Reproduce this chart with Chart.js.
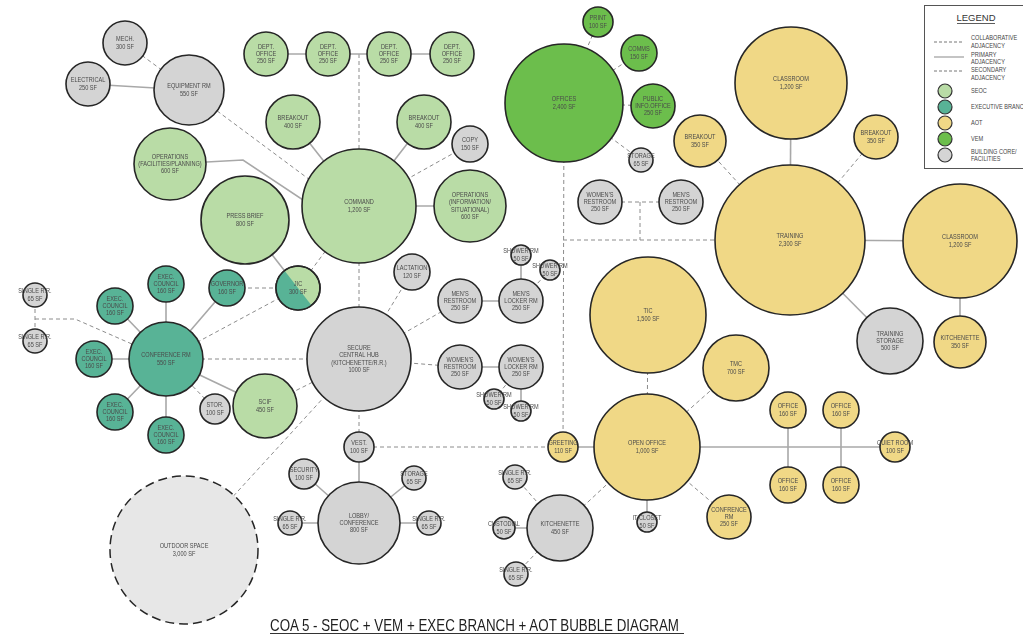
<!DOCTYPE html>
<html>
<head>
<meta charset="utf-8">
<script src="https://cdn.jsdelivr.net/npm/chart.js@4.4.1/dist/chart.umd.min.js"></script>
<style>
  html, body { margin: 0; padding: 0; background: #ffffff; }
  #wrap { position: relative; width: 1023px; height: 635px; overflow: hidden; background: #fff; }
  #c { position: absolute; left: 0; top: 0; display: block; }
  #ov { position: absolute; left: 0; top: 0; }
</style>
</head>
<body>
<div id="wrap">
  <canvas id="c" width="1023" height="635"></canvas>
  <svg id="ov" width="1023" height="635" xmlns="http://www.w3.org/2000/svg">
    <rect x="924.5" y="5.5" width="110" height="163" fill="#ffffff" stroke="#555" stroke-width="1"/>
    <text x="976" y="21" text-anchor="middle" font-family="Liberation Sans, Arial, sans-serif" font-size="9.5" fill="#333">LEGEND</text>
    <line x1="957" y1="23.5" x2="995" y2="23.5" stroke="#333" stroke-width="0.8"/>
    <line x1="934" y1="42" x2="964" y2="42" stroke="#777" stroke-width="1" stroke-dasharray="3,2"/>
    <line x1="934" y1="57" x2="964" y2="57" stroke="#b5b5b5" stroke-width="1.6"/>
    <line x1="934" y1="71" x2="964" y2="71" stroke="#777" stroke-width="1" stroke-dasharray="3,2"/>
    <circle cx="945" cy="91" r="7" fill="#b9dca6" stroke="#333" stroke-width="1.2"/>
    <circle cx="945" cy="107" r="7" fill="#58b396" stroke="#333" stroke-width="1.2"/>
    <circle cx="945" cy="123" r="7" fill="#f0d886" stroke="#333" stroke-width="1.2"/>
    <circle cx="945" cy="139" r="7" fill="#6cbe4c" stroke="#333" stroke-width="1.2"/>
    <circle cx="945" cy="155" r="7" fill="#d4d4d4" stroke="#333" stroke-width="1.2"/>
    <g font-family="Liberation Sans, Arial, sans-serif" font-size="7" fill="#444">
      <g transform="translate(971,0) scale(0.8,1)">
        <text x="0" y="40.5">COLLABORATIVE</text>
        <text x="0" y="48.5">ADJACENCY</text>
        <text x="0" y="57.5">PRIMARY</text>
        <text x="0" y="64.5">ADJACENCY</text>
        <text x="0" y="72.5">SECONDARY</text>
        <text x="0" y="80.5">ADJACENCY</text>
        <text x="0" y="93.5">SEOC</text>
        <text x="0" y="109.5">EXECUTIVE BRANCH</text>
        <text x="0" y="125.5">AOT</text>
        <text x="0" y="141.5">VEM</text>
        <text x="0" y="154.5">BUILDING CORE/</text>
        <text x="0" y="161.5">FACILITIES</text>
      </g>
    </g>
    <g transform="translate(270,631) scale(0.82,1)">
      <text x="0" y="0" font-family="Liberation Sans, Arial, sans-serif" font-size="16.3" fill="#1e1e1e">COA 5 - SEOC + VEM + EXEC BRANCH + AOT BUBBLE DIAGRAM</text>
    </g>
    <line x1="270" y1="633.5" x2="684" y2="633.5" stroke="#333" stroke-width="1"/>
  </svg>
</div>
<script>
// ---------- DATA: rooms [id, label, x, y, radius] ----------
const seocRooms = [
  ['opsFac', 'OPERATIONS\n(FACILITIES/PLANNING)\n600 SF', 170, 164, 36],
  ['dept1', 'DEPT.\nOFFICE\n250 SF', 266, 54, 22],
  ['dept2', 'DEPT.\nOFFICE\n250 SF', 328, 54, 22],
  ['dept3', 'DEPT.\nOFFICE\n250 SF', 389, 54, 22],
  ['dept4', 'DEPT.\nOFFICE\n250 SF', 452, 54, 22],
  ['brkL', 'BREAKOUT\n400 SF', 293, 122, 27],
  ['brkR', 'BREAKOUT\n400 SF', 424, 122, 27],
  ['command', 'COMMAND\n1,200 SF', 359, 206, 57],
  ['opsInfo', 'OPERATIONS\n(INFORMATION/\nSITUATIONAL)\n600 SF', 470, 206, 36],
  ['press', 'PRESS BRIEF\n800 SF', 245, 220, 44],
  ['scif', 'SCIF\n450 SF', 265, 406, 32]
];
const execRooms = [
  ['execT', 'EXEC.\nCOUNCIL\n160 SF', 166, 284, 18],
  ['governor', 'GOVERNOR\n160 SF', 227, 288, 18],
  ['execLT', 'EXEC.\nCOUNCIL\n160 SF', 115, 306, 18],
  ['execL', 'EXEC.\nCOUNCIL\n160 SF', 94, 359, 18],
  ['execLB', 'EXEC.\nCOUNCIL\n160 SF', 115, 412, 18],
  ['execB', 'EXEC.\nCOUNCIL\n160 SF', 166, 435, 18],
  ['confRm', 'CONFERENCE RM\n550 SF', 166, 359, 37]
];
const jicRooms = [
  ['jic', 'JIC\n300 SF', 298, 288, 22]
];
const vemRooms = [
  ['offices', 'OFFICES\n2,400 SF', 564, 103, 59],
  ['print', 'PRINT\n100 SF', 598, 22, 15],
  ['comms', 'COMMS\n150 SF', 639, 53, 18],
  ['pio', 'PUBLIC\nINFO.OFFICE\n250 SF', 653, 106, 22]
];
const aotRooms = [
  ['classT', 'CLASSROOM\n1,200 SF', 791, 83, 56],
  ['brkA', 'BREAKOUT\n350 SF', 700, 141, 26],
  ['brkB', 'BREAKOUT\n350 SF', 876, 137, 22],
  ['training', 'TRAINING\n2,300 SF', 790, 240, 75],
  ['classR', 'CLASSROOM\n1,200 SF', 960, 241, 57],
  ['kitA', 'KITCHENETTE\n350 SF', 960, 342, 26],
  ['tic', 'TIC\n1,500 SF', 648, 315, 58],
  ['tmc', 'TMC\n700 SF', 736, 368, 33],
  ['openOff', 'OPEN OFFICE\n1,000 SF', 647, 447, 53],
  ['greeting', 'GREETING\n110 SF', 563, 447, 15],
  ['office1', 'OFFICE\n160 SF', 788, 410, 18],
  ['office2', 'OFFICE\n160 SF', 841, 410, 18],
  ['office3', 'OFFICE\n160 SF', 788, 485, 18],
  ['office4', 'OFFICE\n160 SF', 841, 485, 18],
  ['quiet', 'QUIET ROOM\n100 SF', 895, 447, 15],
  ['confA', 'CONFRENCE\nRM\n250 SF', 729, 517, 22]
];
const coreRooms = [
  ['mech', 'MECH.\n300 SF', 125, 43, 22],
  ['elec', 'ELECTRICAL\n250 SF', 88, 84, 22],
  ['equip', 'EQUIPMENT RM\n550 SF', 189, 90, 35],
  ['copy', 'COPY\n150 SF', 470, 144, 18],
  ['storV', 'STORAGE\n65 SF', 641, 160, 12],
  ['wrrV', "WOMEN'S\nRESTROOM\n250 SF", 600, 202, 22],
  ['mrrV', "MEN'S\nRESTROOM\n250 SF", 681, 202, 22],
  ['srr1', 'SINGLE R.R.\n65 SF', 35, 295, 12],
  ['srr2', 'SINGLE R.R.\n65 SF', 35, 341, 12],
  ['stor', 'STOR.\n100 SF', 215, 409, 15],
  ['lact', 'LACTATION\n120 SF', 412, 272, 18],
  ['hub', 'SECURE\nCENTRAL HUB\n(KITCHENETTE/R.R.)\n1000 SF', 359, 359, 52],
  ['mrr', "MEN'S\nRESTROOM\n250 SF", 460, 301, 22],
  ['wrr', "WOMEN'S\nRESTROOM\n250 SF", 460, 367, 22],
  ['mlock', "MEN'S\nLOCKER RM\n250 SF", 521, 301, 22],
  ['wlock', "WOMEN'S\nLOCKER RM\n250 SF", 521, 367, 22],
  ['shw1', 'SHOWER RM\n50 SF', 521, 255, 10],
  ['shw2', 'SHOWER RM\n50 SF', 550, 270, 10],
  ['shw3', 'SHOWER RM\n50 SF', 494, 399, 10],
  ['shw4', 'SHOWER RM\n50 SF', 521, 411, 10],
  ['vest', 'VEST.\n100 SF', 359, 447, 15],
  ['security', 'SECURITY\n100 SF', 304, 474, 15],
  ['storL', 'STORAGE\n65 SF', 414, 478, 12],
  ['lobby', 'LOBBY/\nCONFERENCE\n800 SF', 359, 523, 41],
  ['srrL', 'SINGLE R.R.\n65 SF', 290, 523, 12],
  ['srrR', 'SINGLE R.R.\n65 SF', 429, 523, 12],
  ['srrK1', 'SINGLE R.R.\n65 SF', 515, 477, 12],
  ['cust', 'CUSTODIAL\n50 SF', 504, 528, 11],
  ['kitG', 'KITCHENETTE\n450 SF', 560, 528, 33],
  ['srrK2', 'SINGLE R.R.\n65 SF', 516, 574, 12],
  ['itc', 'IT CLOSET\n50 SF', 647, 522, 10],
  ['trStor', 'TRAINING\nSTORAGE\n500 SF', 890, 341, 33]
];
const outdoorRooms = [
  ['outdoor', 'OUTDOOR SPACE\n3,000 SF', 184, 550, 74]
];

// ---------- DATA: adjacencies (room ids or bend points) ----------
const primaryLinks = [
  ['elec', 'equip'], ['opsFac', [243, 160], [303, 200], 'command'],
  ['dept1', 'dept2'], ['dept2', 'dept3'], ['dept3', 'dept4'],
  ['brkL', 'command'], ['brkR', 'command'], ['opsInfo', 'command'], ['press', 'jic'],
  ['execT', 'confRm'], ['governor', 'confRm'], ['execLT', 'confRm'], ['execL', 'confRm'],
  ['execLB', 'confRm'], ['execB', 'confRm'], ['scif', 'confRm'],
  ['mrr', 'mlock'], ['wrr', 'wlock'], ['shw1', 'mlock'], ['shw4', 'wlock'],
  ['vest', 'lobby'], ['security', 'lobby'], ['storL', 'lobby'], ['srrL', 'lobby'], ['srrR', 'lobby'],
  ['greeting', 'openOff'], ['openOff', 'quiet'], ['office1', 'office3'], ['office2', 'office4'],
  ['openOff', 'itc'], ['classT', 'training'], ['training', 'classR'], ['training', 'trStor'],
  ['classR', 'kitA'], ['cust', 'kitG']
];
const secondaryLinks = [
  ['mech', 'equip'], ['equip', [310, 180]], ['copy', 'command'], [[359, 54], 'command'],
  ['jic', 'command'], ['governor', 'jic'], ['confRm', 'jic'], ['stor', 'confRm'],
  ['srr1', 'srr2'], [[35, 319], [75, 319], 'confRm'], ['confRm', 'hub'], ['scif', 'hub'],
  ['command', 'hub'], ['lact', 'hub'], ['mrr', 'hub'], ['wrr', 'hub'], ['hub', 'outdoor'],
  ['hub', 'vest'], ['shw2', 'mlock'], ['shw3', 'wlock'], ['vest', 'greeting'],
  ['offices', 'greeting'], [[563, 240], 'training'], ['wrrV', 'mrrV'], [[640, 202], [640, 240]],
  ['print', 'offices'], ['comms', 'offices'], ['pio', 'offices'], ['storV', 'offices'],
  ['brkA', 'training'], ['brkB', 'training'], ['tic', 'openOff'], ['tmc', 'openOff'],
  ['openOff', 'confA'], ['openOff', 'kitG'], ['srrK1', 'kitG'], ['srrK2', 'kitG']
];

// ---------- STYLE ----------
const COLORS = {
  seoc: '#b9dca6', exec: '#58b396', aot: '#f0d886', vem: '#6cbe4c', core: '#d4d4d4', outdoor: '#e7e7e7'
};
const OUTLINE = '#262626';

const allGroups = [seocRooms, execRooms, jicRooms, vemRooms, aotRooms, coreRooms, outdoorRooms];
const nodeIndex = {};
allGroups.forEach(g => g.forEach(r => { nodeIndex[r[0]] = { x: r[2], y: r[3] }; }));
const pt = ref => (typeof ref === 'string') ? { x: nodeIndex[ref].x, y: nodeIndex[ref].y } : { x: ref[0], y: ref[1] };

function bubbleSet(label, rooms, bg, extra) {
  return Object.assign({
    type: 'bubble',
    label: label,
    data: rooms.map(r => ({ x: r[2], y: r[3], r: r[4] })),
    roomLabels: rooms.map(r => r[1]),
    backgroundColor: bg,
    borderColor: OUTLINE,
    borderWidth: 1.6,
    hoverBorderWidth: 1.6,
    clip: false,
    order: 0
  }, extra || {});
}

const datasets = [
  bubbleSet('SEOC', seocRooms, COLORS.seoc),
  bubbleSet('Executive Branch', execRooms, COLORS.exec),
  bubbleSet('JIC', jicRooms, COLORS.seoc, { splitFill: COLORS.exec }),
  bubbleSet('VEM', vemRooms, COLORS.vem),
  bubbleSet('AOT', aotRooms, COLORS.aot),
  bubbleSet('Building Core / Facilities', coreRooms, COLORS.core),
  bubbleSet('Outdoor', outdoorRooms, COLORS.outdoor, { borderWidth: 0, hoverBorderWidth: 0, dashedOutline: true })
];
primaryLinks.forEach(l => datasets.push({
  type: 'line', data: l.map(pt), borderColor: '#a8a8a8', borderWidth: 1.6, clip: false,
  pointRadius: 0, pointHoverRadius: 0, fill: false, tension: 0, order: 1
}));
secondaryLinks.forEach(l => datasets.push({
  type: 'line', data: l.map(pt), borderColor: '#8c8c8c', borderWidth: 1, clip: false,
  borderDash: [4, 3], pointRadius: 0, pointHoverRadius: 0, fill: false, tension: 0, order: 1
}));

const roomLabelPlugin = {
  id: 'roomLabels',
  afterDatasetsDraw(chart) {
    const ctx = chart.ctx;
    chart.data.datasets.forEach((ds, i) => {
      if (!ds.roomLabels) return;
      const meta = chart.getDatasetMeta(i);
      meta.data.forEach((el, j) => {
        const rad = el.options.radius;
        if (ds.splitFill) {
          const nx = 0.788, ny = -0.616;
          const tx = 0.616, ty = 0.788;
          const R = rad + 2;
          ctx.save();
          ctx.beginPath();
          ctx.arc(el.x, el.y, rad, 0, Math.PI * 2);
          ctx.clip();
          ctx.beginPath();
          ctx.moveTo(el.x - tx * R, el.y - ty * R);
          ctx.lineTo(el.x + tx * R, el.y + ty * R);
          ctx.lineTo(el.x + tx * R - nx * R * 2, el.y + ty * R - ny * R * 2);
          ctx.lineTo(el.x - tx * R - nx * R * 2, el.y - ty * R - ny * R * 2);
          ctx.closePath();
          ctx.fillStyle = ds.splitFill;
          ctx.fill();
          ctx.restore();
          ctx.save();
          ctx.beginPath();
          ctx.arc(el.x, el.y, rad, 0, Math.PI * 2);
          ctx.lineWidth = ds.borderWidth;
          ctx.strokeStyle = OUTLINE;
          ctx.stroke();
          ctx.restore();
        }
        if (ds.dashedOutline) {
          ctx.save();
          ctx.beginPath();
          ctx.setLineDash([9, 5]);
          ctx.lineWidth = 1.5;
          ctx.strokeStyle = OUTLINE;
          ctx.arc(el.x, el.y, rad, 0, Math.PI * 2);
          ctx.stroke();
          ctx.restore();
        }
        const lines = ds.roomLabels[j].split('\n');
        const lh = 7.3;
        const y0 = el.y - (lines.length - 1) * lh / 2;
        ctx.save();
        ctx.fillStyle = '#4a4a4a';
        ctx.font = '7px "Liberation Sans", Arial, sans-serif';
        ctx.textAlign = 'center';
        ctx.textBaseline = 'middle';
        lines.forEach((t, k) => {
          ctx.save();
          ctx.translate(el.x, y0 + k * lh);
          ctx.scale(0.8, 1);
          ctx.fillText(t, 0, 0);
          ctx.restore();
        });
        ctx.restore();
      });
    });
  }
};

new Chart(document.getElementById('c'), {
  type: 'bubble',
  data: { datasets: datasets },
  options: {
    responsive: false,
    animation: false,
    devicePixelRatio: 1,
    events: [],
    layout: { padding: 0, autoPadding: false },
    scales: {
      x: { type: 'linear', min: 0, max: 1023, display: false },
      y: { type: 'linear', min: 0, max: 635, reverse: true, display: false }
    },
    plugins: {
      legend: { display: false },
      tooltip: { enabled: false },
      title: { display: false }
    }
  },
  plugins: [roomLabelPlugin]
});
</script>
</body>
</html>
